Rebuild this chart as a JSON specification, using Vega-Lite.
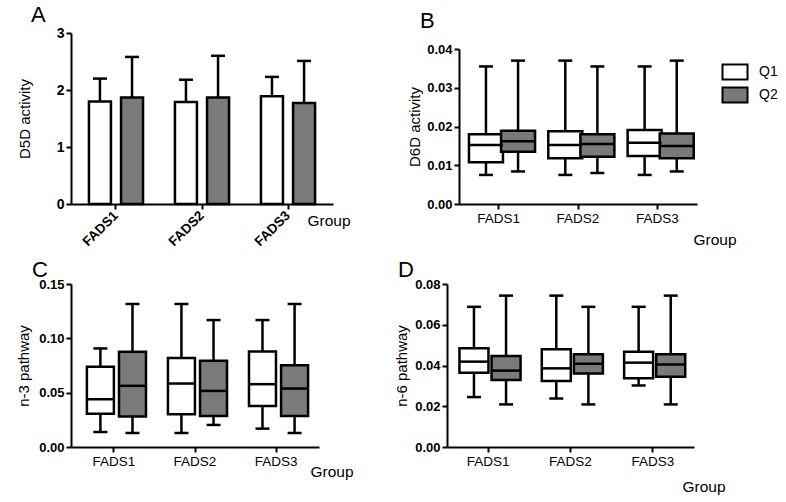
{
  "$schema": "https://vega.github.io/schema/vega-lite/v6.json",
  "padding": {"left": 16, "top": 4, "right": 0, "bottom": 0},
  "config": {
    "font": "Liberation Sans",
    "view": {"stroke": null},
    "axis": {"domainColor": "black", "domainWidth": 2, "tickColor": "black", "tickWidth": 2, "tickSize": 5, "labelColor": "black", "titleColor": "black", "grid": false, "titleFontWeight": "normal", "titleFontSize": 15, "labelFontSize": 13.5, "labelOverlap": false},
    "axisY": {"labelFontWeight": "bold", "labelFontSize": 13},
    "axisX": {"labelAngle": 0, "titleAngle": 0, "titleAlign": "left", "titleBaseline": "middle", "titleFontSize": 15.5},
    "tick": {"opacity": 1},
    "title": {"fontSize": 22, "fontWeight": "normal", "anchor": "start", "frame": "group", "baseline": "alphabetic", "color": "black"}
  },
  "datasets": {
    "bars": [
      {"group": "FADS1", "q": "Q1", "mean": 1.80, "upper": 2.20},
      {"group": "FADS1", "q": "Q2", "mean": 1.87, "upper": 2.58},
      {"group": "FADS2", "q": "Q1", "mean": 1.79, "upper": 2.18},
      {"group": "FADS2", "q": "Q2", "mean": 1.87, "upper": 2.60},
      {"group": "FADS3", "q": "Q1", "mean": 1.89, "upper": 2.23},
      {"group": "FADS3", "q": "Q2", "mean": 1.77, "upper": 2.51}
    ],
    "boxes": [
      {"panel": "B", "group": "FADS1", "q": "Q1", "min": 0.0075, "q1": 0.0108, "median": 0.0152, "q3": 0.0180, "max": 0.0355},
      {"panel": "B", "group": "FADS1", "q": "Q2", "min": 0.0084, "q1": 0.0135, "median": 0.0162, "q3": 0.0189, "max": 0.0370},
      {"panel": "B", "group": "FADS2", "q": "Q1", "min": 0.0075, "q1": 0.0118, "median": 0.0152, "q3": 0.0188, "max": 0.0370},
      {"panel": "B", "group": "FADS2", "q": "Q2", "min": 0.0080, "q1": 0.0122, "median": 0.0155, "q3": 0.0180, "max": 0.0355},
      {"panel": "B", "group": "FADS3", "q": "Q1", "min": 0.0075, "q1": 0.0124, "median": 0.0158, "q3": 0.0191, "max": 0.0355},
      {"panel": "B", "group": "FADS3", "q": "Q2", "min": 0.0084, "q1": 0.0118, "median": 0.0150, "q3": 0.0182, "max": 0.0370},
      {"panel": "C", "group": "FADS1", "q": "Q1", "min": 0.0138, "q1": 0.0307, "median": 0.0440, "q3": 0.0738, "max": 0.0907},
      {"panel": "C", "group": "FADS1", "q": "Q2", "min": 0.0129, "q1": 0.0280, "median": 0.0563, "q3": 0.0876, "max": 0.1316},
      {"panel": "C", "group": "FADS2", "q": "Q1", "min": 0.0129, "q1": 0.0301, "median": 0.0584, "q3": 0.0818, "max": 0.1316},
      {"panel": "C", "group": "FADS2", "q": "Q2", "min": 0.0203, "q1": 0.0286, "median": 0.0516, "q3": 0.0793, "max": 0.1168},
      {"panel": "C", "group": "FADS3", "q": "Q1", "min": 0.0169, "q1": 0.0378, "median": 0.0578, "q3": 0.0879, "max": 0.1168},
      {"panel": "C", "group": "FADS3", "q": "Q2", "min": 0.0129, "q1": 0.0286, "median": 0.0538, "q3": 0.0753, "max": 0.1316},
      {"panel": "D", "group": "FADS1", "q": "Q1", "min": 0.0245, "q1": 0.0365, "median": 0.0419, "q3": 0.0485, "max": 0.0688},
      {"panel": "D", "group": "FADS1", "q": "Q2", "min": 0.0209, "q1": 0.0329, "median": 0.0375, "q3": 0.0447, "max": 0.0743},
      {"panel": "D", "group": "FADS2", "q": "Q1", "min": 0.0238, "q1": 0.0324, "median": 0.0386, "q3": 0.0480, "max": 0.0743},
      {"panel": "D", "group": "FADS2", "q": "Q2", "min": 0.0209, "q1": 0.0361, "median": 0.0408, "q3": 0.0455, "max": 0.0688},
      {"panel": "D", "group": "FADS3", "q": "Q1", "min": 0.0302, "q1": 0.0337, "median": 0.0414, "q3": 0.0467, "max": 0.0688},
      {"panel": "D", "group": "FADS3", "q": "Q2", "min": 0.0209, "q1": 0.0345, "median": 0.0405, "q3": 0.0455, "max": 0.0743}
    ]
  },
  "spacing": 10,
  "resolve": {"scale": {"fill": "independent", "x": "independent", "y": "independent"}},
  "vconcat": [
    {
      "spacing": 56,
      "resolve": {"scale": {"fill": "independent", "x": "independent", "y": "independent"}},
      "hconcat": [
        {
          "width": 262, "height": 171,
          "title": {"text": "A", "dx": -40, "offset": 8, "dy": 9},
          "data": {"name": "bars"},
          "encoding": {
            "x": {"field": "group", "type": "nominal", "scale": {"paddingInner": 0, "paddingOuter": 0.023}, "axis": {"title": "Group", "titleX": 236, "titleY": 16, "labelAngle": -45, "labelFontWeight": "bold", "labelAlign": "right", "labelBaseline": "middle", "labelPadding": 4}},
            "xOffset": {"field": "q", "type": "nominal", "scale": {"paddingInner": 0, "paddingOuter": 0.34}}
          },
          "layer": [
            {"mark": {"type": "rule", "color": "black", "strokeWidth": 2.5}, "encoding": {"y": {"field": "mean", "type": "quantitative", "title": "D5D activity", "scale": {"domain": [0, 3]}, "axis": {"values": [0, 1, 2, 3], "format": "d", "titlePadding": 24, "labelFontSize": 14, "labelOverlap": false}}, "y2": {"field": "upper"}}},
            {"mark": {"type": "bar", "width": 22, "stroke": "black", "strokeWidth": 2.5}, "encoding": {"y": {"field": "mean", "type": "quantitative", "title": "D5D activity", "scale": {"domain": [0, 3]}}, "fill": {"field": "q", "type": "nominal", "scale": {"domain": ["Q1", "Q2"], "range": ["white", "#7a7a7a"]}, "legend": null}}},
            {"mark": {"type": "tick", "size": 14, "thickness": 2.5, "color": "black"}, "encoding": {"y": {"field": "upper", "type": "quantitative", "title": "D5D activity", "scale": {"domain": [0, 3]}}}}
          ]
        },
        {
          "spacing": 9,
          "resolve": {"scale": {"fill": "independent", "x": "independent", "y": "independent"}},
          "vconcat": [
            {
              "width": 238, "height": 1,
              "title": {"text": "B", "dx": -39, "offset": 6, "dy": 6},
              "data": {"values": []},
              "mark": "rule",
              "encoding": {}
            },
            {
              "width": 238, "height": 155,
              "data": {"name": "boxes"},
              "transform": [{"filter": "datum.panel === 'B'"}],
              "encoding": {
                "x": {"field": "group", "type": "nominal", "scale": {"paddingInner": 0, "paddingOuter": 0}, "axis": {"title": "Group", "titleX": 234, "titleY": 35}},
                "xOffset": {"field": "q", "type": "nominal", "scale": {"paddingInner": 0, "paddingOuter": 0.043}}
              },
              "layer": [
                {"mark": {"type": "rule", "color": "black", "strokeWidth": 2.5}, "encoding": {"y": {"field": "min", "type": "quantitative", "title": "D6D activity", "scale": {"domain": [0, 0.04]}, "axis": {"values": [0, 0.01, 0.02, 0.03, 0.04], "tickCount": 5, "format": ".2f", "titlePadding": 4, "labelOverlap": false}}, "y2": {"field": "max"}}},
                {"mark": {"type": "tick", "size": 14, "thickness": 2.5, "color": "black"}, "encoding": {"y": {"field": "min", "type": "quantitative", "title": "D6D activity", "scale": {"domain": [0, 0.04]}, "axis": {"values": [0, 0.01, 0.02, 0.03, 0.04], "tickCount": 5, "format": ".2f", "titlePadding": 4, "labelOverlap": false}}}},
                {"mark": {"type": "tick", "size": 14, "thickness": 2.5, "color": "black"}, "encoding": {"y": {"field": "max", "type": "quantitative", "title": "D6D activity", "scale": {"domain": [0, 0.04]}, "axis": {"values": [0, 0.01, 0.02, 0.03, 0.04], "tickCount": 5, "format": ".2f", "titlePadding": 4, "labelOverlap": false}}}},
                {"mark": {"type": "bar", "width": 34, "stroke": "black", "strokeWidth": 2.5}, "encoding": {"y": {"field": "q1", "type": "quantitative", "title": "D6D activity", "scale": {"domain": [0, 0.04]}, "axis": {"values": [0, 0.01, 0.02, 0.03, 0.04], "tickCount": 5, "format": ".2f", "titlePadding": 4, "labelOverlap": false}}, "y2": {"field": "q3"}, "fill": {"field": "q", "type": "nominal", "scale": {"domain": ["Q1", "Q2"], "range": ["white", "#7a7a7a"]}, "legend": {"title": null, "orient": "none", "legendX": 265, "legendY": 12, "symbolType": "M-1.25,-0.75H1.25V0.75H-1.25Z", "symbolSize": 400, "symbolStrokeColor": "black", "symbolStrokeWidth": 2, "labelFontSize": 14, "labelOffset": 13, "rowPadding": -1, "labelColor": "black"}}}},
                {"mark": {"type": "tick", "size": 34, "thickness": 2.5, "color": "black"}, "encoding": {"y": {"field": "median", "type": "quantitative", "title": "D6D activity", "scale": {"domain": [0, 0.04]}, "axis": {"values": [0, 0.01, 0.02, 0.03, 0.04], "tickCount": 5, "format": ".2f", "titlePadding": 4, "labelOverlap": false}}}}
              ]
            }
          ]
        }
      ]
    },
    {
      "spacing": 40,
      "resolve": {"scale": {"fill": "independent", "x": "independent", "y": "independent"}},
      "hconcat": [
        {
          "width": 248, "height": 163,
          "title": {"text": "C", "dx": -39, "offset": 6, "dy": 10},
          "data": {"name": "boxes"},
          "transform": [{"filter": "datum.panel === 'C'"}],
          "encoding": {
            "x": {"field": "group", "type": "nominal", "scale": {"paddingInner": 0, "paddingOuter": 0.03}, "axis": {"title": "Group", "titleX": 239, "titleY": 24}},
            "xOffset": {"field": "q", "type": "nominal", "scale": {"paddingInner": 0, "paddingOuter": 0.0385}}
          },
          "layer": [
            {"mark": {"type": "rule", "color": "black", "strokeWidth": 2.5}, "encoding": {"y": {"field": "min", "type": "quantitative", "title": "n-3 pathway", "scale": {"domain": [0, 0.15]}, "axis": {"values": [0, 0.05, 0.1, 0.15], "format": ".2f", "titlePadding": 7, "labelOverlap": false}}, "y2": {"field": "max"}}},
            {"mark": {"type": "tick", "size": 14, "thickness": 2.5, "color": "black"}, "encoding": {"y": {"field": "min", "type": "quantitative", "title": "n-3 pathway", "scale": {"domain": [0, 0.15]}}}},
            {"mark": {"type": "tick", "size": 14, "thickness": 2.5, "color": "black"}, "encoding": {"y": {"field": "max", "type": "quantitative", "title": "n-3 pathway", "scale": {"domain": [0, 0.15]}}}},
            {"mark": {"type": "bar", "width": 27, "stroke": "black", "strokeWidth": 2.5}, "encoding": {"y": {"field": "q1", "type": "quantitative", "title": "n-3 pathway", "scale": {"domain": [0, 0.15]}}, "y2": {"field": "q3"}, "fill": {"field": "q", "type": "nominal", "scale": {"domain": ["Q1", "Q2"], "range": ["white", "#7a7a7a"]}, "legend": null}}},
            {"mark": {"type": "tick", "size": 27, "thickness": 2.5, "color": "black"}, "encoding": {"y": {"field": "median", "type": "quantitative", "title": "n-3 pathway", "scale": {"domain": [0, 0.15]}}}}
          ]
        },
        {
          "width": 247, "height": 163,
          "title": {"text": "D", "dx": -49, "offset": 6, "dy": 10},
          "data": {"name": "boxes"},
          "transform": [{"filter": "datum.panel === 'D'"}],
          "encoding": {
            "x": {"field": "group", "type": "nominal", "scale": {"paddingInner": 0, "paddingOuter": 0}, "axis": {"title": "Group", "titleX": 235, "titleY": 39}},
            "xOffset": {"field": "q", "type": "nominal", "scale": {"paddingInner": 0, "paddingOuter": 0.004}}
          },
          "layer": [
            {"mark": {"type": "rule", "color": "black", "strokeWidth": 2.5}, "encoding": {"y": {"field": "min", "type": "quantitative", "title": "n-6 pathway", "scale": {"domain": [0, 0.08]}, "axis": {"values": [0, 0.02, 0.04, 0.06, 0.08], "format": ".2f", "titlePadding": 5, "labelOverlap": false}}, "y2": {"field": "max"}}},
            {"mark": {"type": "tick", "size": 14, "thickness": 2.5, "color": "black"}, "encoding": {"y": {"field": "min", "type": "quantitative", "title": "n-6 pathway", "scale": {"domain": [0, 0.08]}}}},
            {"mark": {"type": "tick", "size": 14, "thickness": 2.5, "color": "black"}, "encoding": {"y": {"field": "max", "type": "quantitative", "title": "n-6 pathway", "scale": {"domain": [0, 0.08]}}}},
            {"mark": {"type": "bar", "width": 29, "stroke": "black", "strokeWidth": 2.5}, "encoding": {"y": {"field": "q1", "type": "quantitative", "title": "n-6 pathway", "scale": {"domain": [0, 0.08]}}, "y2": {"field": "q3"}, "fill": {"field": "q", "type": "nominal", "scale": {"domain": ["Q1", "Q2"], "range": ["white", "#7a7a7a"]}, "legend": null}}},
            {"mark": {"type": "tick", "size": 29, "thickness": 2.5, "color": "black"}, "encoding": {"y": {"field": "median", "type": "quantitative", "title": "n-6 pathway", "scale": {"domain": [0, 0.08]}}}}
          ]
        }
      ]
    }
  ]
}
